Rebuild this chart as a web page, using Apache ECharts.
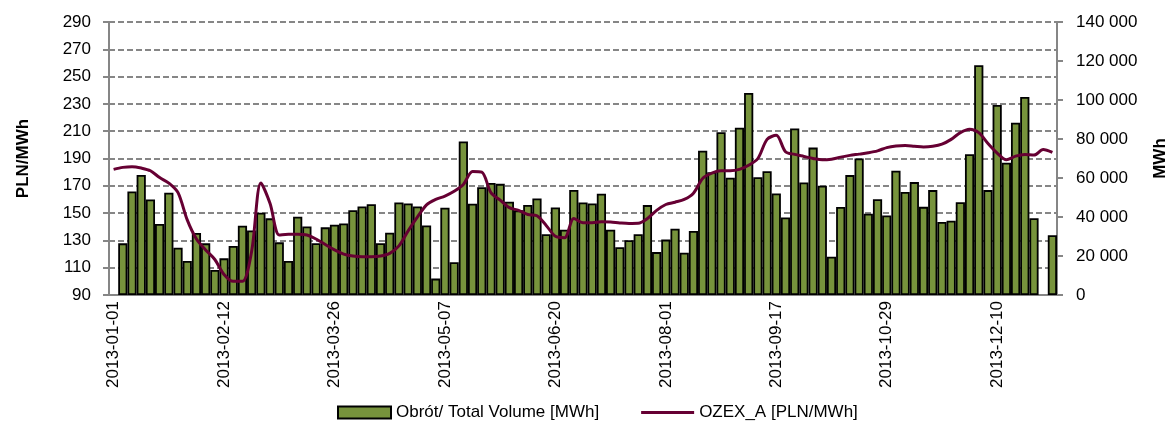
<!DOCTYPE html>
<html>
<head>
<meta charset="utf-8">
<title>OZEX_A</title>
<script src="https://cdn.jsdelivr.net/npm/echarts@6/dist/echarts.min.js"></script>
<style>
    html, body { margin: 0; padding: 0; background: #fff; }
    .chart { width: 1171px; height: 421px; }
</style>
</head>
<body>
<div class="chart"></div>
<script>
// sesje (wt / czw)
var dates = [
    '2013-01-01', '2013-01-03', '2013-01-08', '2013-01-10', '2013-01-15', '2013-01-17', '2013-01-22', '2013-01-24', '2013-01-29', '2013-01-31',
    '2013-02-05', '2013-02-07', '2013-02-12', '2013-02-14', '2013-02-19', '2013-02-21', '2013-02-26', '2013-02-28',
    '2013-03-05', '2013-03-07', '2013-03-12', '2013-03-14', '2013-03-19', '2013-03-21', '2013-03-26', '2013-03-28',
    '2013-04-02', '2013-04-04', '2013-04-09', '2013-04-11', '2013-04-16', '2013-04-18', '2013-04-23', '2013-04-25', '2013-04-30',
    '2013-05-02', '2013-05-07', '2013-05-09', '2013-05-14', '2013-05-16', '2013-05-21', '2013-05-23', '2013-05-28',
    '2013-06-04', '2013-06-06', '2013-06-11', '2013-06-13', '2013-06-18', '2013-06-20', '2013-06-25', '2013-06-27',
    '2013-07-02', '2013-07-04', '2013-07-09', '2013-07-11', '2013-07-16', '2013-07-18', '2013-07-23', '2013-07-25', '2013-07-30',
    '2013-08-01', '2013-08-06', '2013-08-08', '2013-08-13', '2013-08-20', '2013-08-22', '2013-08-27', '2013-08-29',
    '2013-09-03', '2013-09-05', '2013-09-10', '2013-09-12', '2013-09-17', '2013-09-19', '2013-09-24', '2013-09-26',
    '2013-10-01', '2013-10-03', '2013-10-08', '2013-10-10', '2013-10-15', '2013-10-17', '2013-10-22', '2013-10-24', '2013-10-29', '2013-10-31',
    '2013-11-05', '2013-11-07', '2013-11-12', '2013-11-14', '2013-11-19', '2013-11-21', '2013-11-26', '2013-11-28',
    '2013-12-03', '2013-12-05', '2013-12-10', '2013-12-12', '2013-12-17', '2013-12-19', '2013-12-24', '2013-12-26', '2013-12-31'
];

// Obrót / Total Volume [MWh], null = brak obrotu
var volume = [
    null, 26500, 53100, 61600, 49000, 36400, 52500, 24200, 17500, 31800,
    26500, 12800, 18800, 25100, 35500, 33100, 42200, 39300, 27000, 17500,
    40100, 35100, 26600, 34700, 36000, 36700, 43500, 45400, 46600, 26600,
    31900, 47500, 46900, 45400, 35700, 8400, 44800, 16800, 78700, 46800,
    55300, 57400, 57000, 47800, 43400, 46200, 49500, 31200, 44900, 33500,
    53900, 47500, 46900, 51900, 33500, 24500, 28100, 31200, 46100, 22000,
    28400, 34000, 21700, 32800, 74000, 63000, 83500, 60100, 85800, 103600,
    60400, 63500, 52100, 39800, 85400, 57700, 75600, 56000, 19600, 45100,
    61500, 70000, 41700, 49100, 40800, 63700, 52800, 57900, 45200, 53800,
    37400, 38100, 47600, 72200, 117800, 53800, 97500, 67800, 88300, 101600,
    39400, null, 30700
];

// OZEX_A [PLN/MWh]
var price = [
    182, 183.5, 184, 183, 181, 176, 172, 165, 145, 131,
    123, 116, 105, 100, 100, 122, 172, 157, 134, 134.5,
    134.5, 134, 131, 127, 123, 120, 118.5, 118, 118, 118.5,
    120.5, 126, 137, 147, 156, 160, 162.5, 166, 171, 180.5,
    180, 165, 159.5, 154, 152, 149, 148, 141, 133, 132,
    146, 143, 143, 143.7, 143.4, 142.8, 142.4, 142.5, 146, 152,
    156.3, 158, 160, 164.6, 175.4, 179.3, 181, 181, 182, 185,
    190, 204, 207, 195, 193, 191.5, 190, 189, 189.5, 191,
    192.3, 193.2, 194.2, 195.6, 198, 199.2, 199.5, 199, 198.5, 199,
    200.5, 204, 209, 211.5, 209, 201, 194, 189, 191.7, 193,
    192.5, 196.6, 194.5
];

var seriesNames = ['Obrót/ Total Volume [MWh]', 'OZEX_A [PLN/MWh]'];

var font = '"Liberation Sans", Arial, sans-serif';
var gray = '#868686';
var fs = 17;

// 140000 -> "140 000"
function spaced(v) {
    return String(v).replace(/\B(?=(\d{3})+(?!\d))/g, ' ');
}

var myChart = echarts.init(document.querySelector('.chart'));
var option = {
    animation: false,
    textStyle: { fontFamily: font },
    // stała siatka, bez dopasowania do etykiet
    grid: { left: 109, right: 114, top: 22, bottom: 126, outerBoundsMode: 'none' },
    legend: {
        left: 332,
        top: 399,
        itemWidth: 53,
        itemHeight: 12,
        itemGap: 42,
        textStyle: { fontFamily: font, fontSize: fs, color: '#000' },
        data: [
            { name: seriesNames[0], icon: 'rect' },
            // sama linia, bez kropki
            { name: seriesNames[1], icon: 'path://M0,0H52V3H0Z' }
        ]
    },
    xAxis: {
        type: 'category',
        data: dates,
        boundaryGap: true,
        axisLine: { lineStyle: { color: gray, width: 2 } },
        axisTick: { interval: 14, length: 6, lineStyle: { color: gray, width: 2 } },
        axisLabel: {
            interval: 11,
            rotate: 90,
            margin: 6,
            fontFamily: font,
            fontSize: fs,
            color: '#000'
        }
    },
    yAxis: [
        {
            type: 'value',
            name: 'PLN/MWh',
            nameLocation: 'middle',
            nameGap: 77,
            nameRotate: 90,
            nameTextStyle: { fontFamily: font, fontSize: fs, fontWeight: 'bold', color: '#000' },
            min: 90,
            max: 290,
            interval: 20,
            axisLine: { show: true, lineStyle: { color: gray, width: 2 } },
            axisTick: { show: true, length: 6, lineStyle: { color: gray, width: 2 } },
            axisLabel: { margin: 18, fontFamily: font, fontSize: fs, color: '#000' },
            splitLine: { show: true, lineStyle: { color: gray, width: 2, type: [6, 3] } }
        },
        {
            type: 'value',
            name: 'MWh',
            nameLocation: 'middle',
            nameGap: 95,
            nameRotate: 90,
            nameTextStyle: { fontFamily: font, fontSize: fs, fontWeight: 'bold', color: '#000' },
            min: 0,
            max: 140000,
            interval: 20000,
            axisLine: { show: true, lineStyle: { color: gray, width: 2 } },
            axisTick: { show: true, length: 6, lineStyle: { color: gray, width: 2 } },
            axisLabel: { margin: 19, fontFamily: font, fontSize: fs, color: '#000', formatter: spaced },
            splitLine: { show: false }
        }
    ],
    series: [
        {
            name: seriesNames[0],
            type: 'bar',
            yAxisIndex: 1,
            barCategoryGap: '0%',
            itemStyle: { color: '#77933C', borderColor: '#000', borderWidth: 1.8 },
            data: volume
        },
        {
            name: seriesNames[1],
            type: 'line',
            yAxisIndex: 0,
            symbol: 'none',
            smooth: 0.3,
            lineStyle: { color: '#660033', width: 3 },
            itemStyle: { color: '#660033' },
            data: price
        }
    ]
};
myChart.setOption(option);
</script>
</body>
</html>
